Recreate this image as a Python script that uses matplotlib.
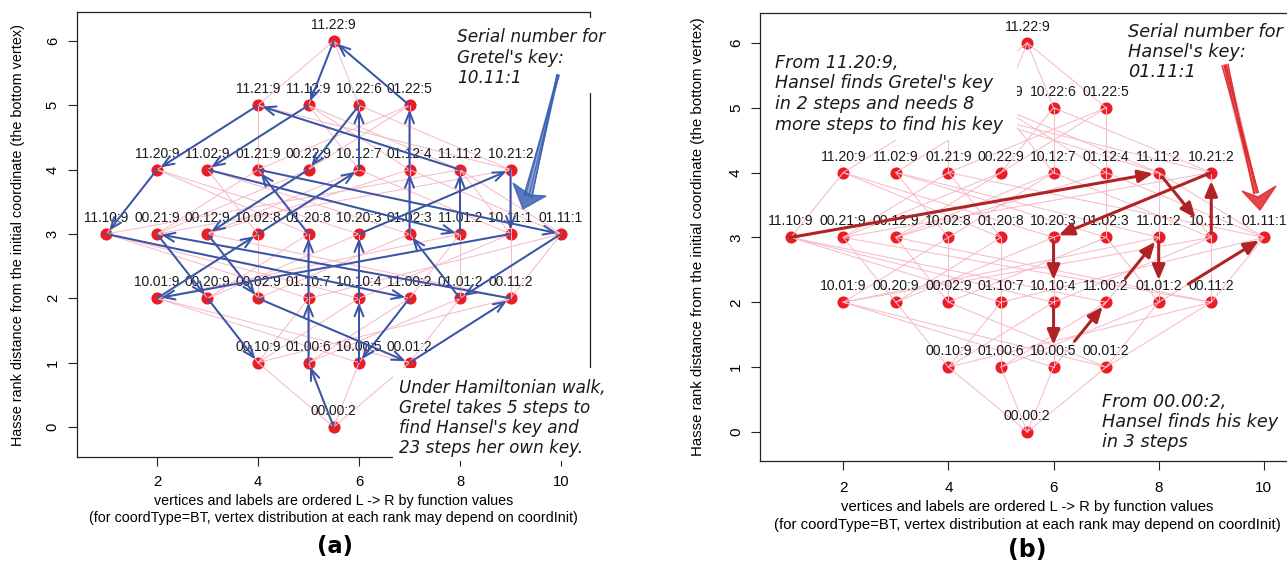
import matplotlib
matplotlib.use("Agg")
import matplotlib.pyplot as plt
from matplotlib.patches import Rectangle, Polygon
from matplotlib.lines import Line2D

plt.rcParams["font.family"] = "Liberation Sans"
NOTE = "DejaVu Sans"
W, H = 1287, 563

BLUE = "#3a55a6"
DARKRED = "#b02226"
PINK = "#f7bcc8"
DOT = "#ec1c24"

# vertices of the Hasse diagram: label, horizontal slot, rank
labels = ["00.00:2",
          "00.10:9", "01.00:6", "10.00:5", "00.01:2",
          "10.01:9", "00.20:9", "00.02:9", "01.10:7", "10.10:4", "11.00:2",
          "01.01:2", "00.11:2",
          "11.10:9", "00.21:9", "00.12:9", "10.02:8", "01.20:8", "10.20:3",
          "01.02:3", "11.01:2", "10.11:1", "01.11:1",
          "11.20:9", "11.02:9", "01.21:9", "00.22:9", "10.12:7", "01.12:4",
          "11.11:2", "10.21:2",
          "11.21:9", "11.12:9", "10.22:6", "01.22:5",
          "11.22:9"]
xslot = [5.5,
         4, 5, 6, 7,
         2, 3, 4, 5, 6, 7, 8, 9,
         1, 2, 3, 4, 5, 6, 7, 8, 9, 10,
         2, 3, 4, 5, 6, 7, 8, 9,
         4, 5, 6, 7,
         5.5]
rank = [0,
        1, 1, 1, 1,
        2, 2, 2, 2, 2, 2, 2, 2,
        3, 3, 3, 3, 3, 3, 3, 3, 3, 3,
        4, 4, 4, 4, 4, 4, 4, 4,
        5, 5, 5, 5,
        6]

# Gretel's Hamiltonian walk from the bottom vertex
walk_a = ["00.00:2", "01.00:6", "01.10:7", "01.20:8", "01.21:9", "01.11:1",
          "01.01:2", "01.02:3", "01.12:4", "01.22:5", "11.22:9", "11.12:9",
          "11.02:9", "11.01:2", "11.11:2", "11.21:9", "11.20:9", "11.10:9",
          "11.00:2", "10.00:5", "10.10:4", "10.20:3", "10.21:2", "10.11:1",
          "10.01:9", "10.02:8", "10.12:7", "10.22:6", "00.22:9", "00.12:9",
          "00.02:9", "00.01:2", "00.11:2", "00.21:9", "00.20:9", "00.10:9"]
# Hansel's walk
walk_b = ["11.10:9", "11.11:2", "10.11:1", "10.21:2", "10.20:3", "10.10:4",
          "10.00:5", "11.00:2", "11.01:2", "01.01:2", "01.11:1"]

pos = {s: (x, r) for s, x, r in zip(labels, xslot, rank)}


def coord(s):
    return [int(c) for c in s.split(":")[0].replace(".", "")]


# cover relations: one coordinate goes up by one
edges = []
for a in labels:
    for b in labels:
        d = [q - p for p, q in zip(coord(a), coord(b))]
        if sorted(d) == [0, 0, 0, 1]:
            edges.append((a, b))

fig = plt.figure(figsize=(W / 100, H / 100), dpi=100)


def fxy(x, y):
    return (x / W, 1 - y / H)


def panel(l, t, r, b, ylim, fs_tick, fs_node, xpad, ypad):
    ax = fig.add_axes([l / W, 1 - b / H, (r - l) / W, (b - t) / H])
    ax.set_xlim(0.416, 10.574)
    ax.set_ylim(*ylim)
    ax.set_xticks([2, 4, 6, 8, 10])
    ax.set_yticks(range(7))
    ax.tick_params(length=6.2, width=0.8, labelsize=fs_tick, color="#222")
    ax.tick_params(axis="x", pad=xpad)
    ax.tick_params(axis="y", pad=ypad, labelrotation=90)
    for t_ in ax.get_yticklabels():
        t_.set_verticalalignment("center")
    for sp in ax.spines.values():
        sp.set_linewidth(0.9)
        sp.set_color("#222")
    xs = [pos[s][0] for s in labels]
    ys = [pos[s][1] for s in labels]
    ax.scatter(xs, ys, s=76, color=DOT, zorder=2, linewidths=0)
    for a, b in edges:
        ax.plot([pos[a][0], pos[b][0]], [pos[a][1], pos[b][1]],
                color=PINK, lw=0.75, zorder=3)
    for s in labels:
        ax.annotate(s, pos[s], xytext=(0, 11.5), textcoords="offset points",
                    ha="center", va="center", fontsize=fs_node,
                    color="#1a1a1a", zorder=4)
    return ax


# ---------------- (a) ----------------
ax1 = panel(77, 12, 590, 457, (-0.466, 6.45), 10.6, 9.9, 6.9, 6.2)
for a, b in zip(walk_a[:-1], walk_a[1:]):
    ax1.annotate("", xy=pos[b], xytext=pos[a], zorder=5,
                 arrowprops=dict(arrowstyle="->,head_length=0.8,head_width=0.32",
                                 color=BLUE, lw=1.45, shrinkA=0, shrinkB=3,
                                 mutation_scale=10))

# ---------------- (b) ----------------
ax2 = panel(760, 13, 1294, 461, (-0.447, 6.46), 11.0, 10.1, 8.5, 6.0)
# end trims (pt) so the arrows clear the vertex labels
trim_b = [(0, 4), (4, 18), (3, 6), (0, 4), (3, 16), (3, 16),
          (24, 4), (22, 4), (3, 16), (25, 4)]
for (a, b), (sa, sb) in zip(zip(walk_b[:-1], walk_b[1:]), trim_b):
    ax2.annotate("", xy=pos[b], xytext=pos[a], zorder=5,
                 arrowprops=dict(arrowstyle="-|>,head_length=0.9,head_width=0.38",
                                 color=DARKRED, lw=2.2, shrinkA=sa, shrinkB=sb,
                                 mutation_scale=10))

# axis titles
ylab = "Hasse rank distance from the initial coordinate (the bottom vertex)"
xl1 = "vertices and labels are ordered L -> R by function values"
xl2 = ("(for coordType=BT, vertex distribution at each rank may depend "
       "on coordInit)")
for l, r, y1, y2, fs in [(77, 590, 501, 518, 10.3),
                         (760, 1294, 507, 524.5, 10.7)]:
    cx = (l + r) / 2
    fig.text(*fxy(cx, y1), xl1, ha="center", va="center", fontsize=fs)
    fig.text(*fxy(cx, y2), xl2, ha="center", va="center", fontsize=fs)
fig.text(*fxy(18, 235), ylab, rotation=90, ha="center", va="center",
         fontsize=10.4)
fig.text(*fxy(698, 237), ylab, rotation=90, ha="center", va="center",
         fontsize=10.8)
fig.text(*fxy(335, 546), "(a)", ha="center", va="center", fontsize=16.3,
         family=NOTE, weight="bold")
fig.text(*fxy(1027, 550), "(b)", ha="center", va="center", fontsize=17,
         family=NOTE, weight="bold")

# white backing boxes for the notes
for x0, y0, x1, y1 in [(452, 18, 600, 93), (393, 368, 600, 461),
                       (765, 47, 1017, 140), (1120, 18, 1287, 82),
                       (1095, 385, 1287, 455)]:
    fig.add_artist(Rectangle(fxy(x0, y1), (x1 - x0) / W, (y1 - y0) / H,
                             transform=fig.transFigure, facecolor="white",
                             edgecolor="none", zorder=1))


def note(lines, x, ys, fs):
    for s, y in zip(lines, ys):
        fig.text(*fxy(x, y), s, ha="left", va="center", fontsize=fs,
                 family=NOTE, style="italic", color="#1a1a1a", zorder=3)


note(["Serial number for", "Gretel's key:", "10.11:1"], 457, [37, 58, 78], 12.2)
note(["Under Hamiltonian walk,", "Gretel takes 5 steps to",
      "find Hansel's key and", "23 steps her own key."],
     399, [388, 408, 428, 448], 12.1)
note(["From 11.20:9,", "Hansel finds Gretel's key", "in 2 steps and needs 8",
      "more steps to find his key"], 775, [63, 83, 104, 125], 12.6)
note(["Serial number for", "Hansel's key:", "01.11:1"], 1128, [32, 52, 72], 12.8)
note(["From 00.00:2,", "Hansel finds his key", "in 3 steps"],
     1102, [402, 422, 442], 12.7)


# hand-drawn pointer arrows: a pale tapered body with crossing strokes
def sketch_arrow(top, neck, w_top, w_neck, head, color):
    dx, dy = neck[0] - top[0], neck[1] - top[1]
    n = (dx * dx + dy * dy) ** 0.5
    nx, ny = dy / n, -dx / n
    shaft = [(top[0] + nx * w_top, top[1] + ny * w_top),
             (neck[0] + nx * w_neck, neck[1] + ny * w_neck),
             (neck[0] - nx * w_neck, neck[1] - ny * w_neck),
             (top[0] - nx * w_top, top[1] - ny * w_top)]
    fig.add_artist(Polygon([fxy(*p) for p in shaft], closed=True,
                           transform=fig.transFigure, facecolor=color,
                           edgecolor="none", alpha=0.55, zorder=4))
    for ft, fn in [(-1, 1), (-0.3, -0.6), (0.4, 0.2), (1, -1), (0, 0.9)]:
        p0 = (top[0] + nx * w_top * ft, top[1] + ny * w_top * ft)
        p1 = (neck[0] + nx * w_neck * fn, neck[1] + ny * w_neck * fn)
        fig.add_artist(Line2D([fxy(*p0)[0], fxy(*p1)[0]],
                              [fxy(*p0)[1], fxy(*p1)[1]],
                              transform=fig.transFigure, color=color,
                              lw=0.9, alpha=0.9, zorder=4))
    fig.add_artist(Polygon([fxy(*p) for p in head], closed=True,
                           transform=fig.transFigure, facecolor=color,
                           edgecolor=color, lw=1.0, alpha=0.85, zorder=4))


sketch_arrow((558, 75), (528, 196), 1.3, 4.2,
             [(513, 183), (523, 209), (546, 196), (530, 195)], "#3c62b3")
sketch_arrow((1225, 65), (1256, 193), 3.2, 2.4,
             [(1242, 191), (1260, 210), (1276, 186), (1258, 197)], "#e0262a")

fig.savefig("out.png", dpi=100)
